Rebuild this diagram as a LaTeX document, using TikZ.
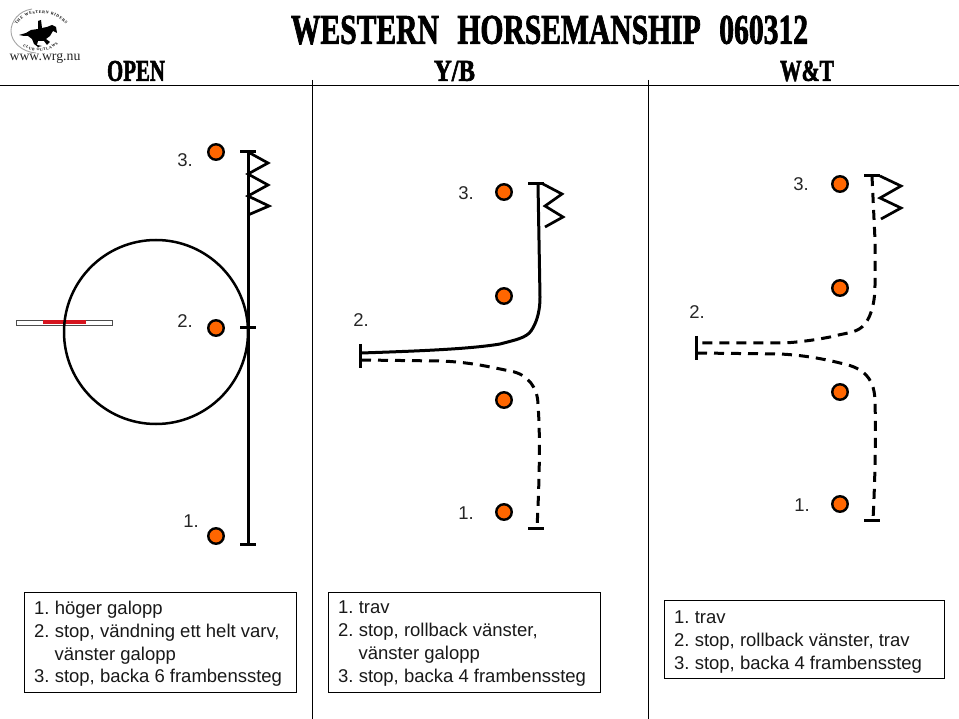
\documentclass[tikz,border=0pt]{standalone}
\usepackage{fontspec}
\usepackage{graphicx}
\setmainfont{Liberation Sans}
\newfontfamily\westfont[FakeBold=2.2,WordSpace=2.5]{Liberation Serif Bold}
\newfontfamily\logofont{Liberation Serif}
\usetikzlibrary{decorations.text}
\definecolor{coneorange}{RGB}{255,102,0}
\definecolor{barred}{RGB}{214,20,30}
\tikzset{
  conenode/.style={circle,draw=black,line width=2.4pt,fill=coneorange,minimum size=15.5pt,inner sep=0pt},
  numlabel/.style={inner sep=0pt,font=\fontsize{18.5}{20}\selectfont,text=black!85},
  pathsolid/.style={line width=3pt,line cap=butt,line join=round},
  pathdash/.style={line width=3pt,dash pattern=on 10pt off 7pt},
  tickline/.style={line width=3pt},
  zigline/.style={line width=2.7pt,line join=miter},
  rulesep/.style={line width=1pt},
  infobox/.style={draw=black,line width=1pt,anchor=north west,inner sep=0pt},
  infotext/.style={inner sep=0pt,anchor=north west,align=left,font=\fontsize{18.5}{22.7}\selectfont,text=black!90},
  headtext/.style={inner sep=0pt,text=black}
}
\newcommand{\westtext}[3]{\resizebox{#1pt}{#2pt}{\westfont #3}}
\frenchspacing
\begin{document}
\begin{tikzpicture}[x=1pt,y=-1pt]
\useasboundingbox (0,0) rectangle (959,719);
\fill[white] (0,0) rectangle (959,719);
% separators
\coordinate (hl) at (0,86); \coordinate (hr) at (959,86);
\coordinate (v1t) at (312,80); \coordinate (v1b) at (312,719);
\coordinate (v2t) at (648,80); \coordinate (v2b) at (648,719);
\draw[rulesep] (hl) -- (hr);
\draw[rulesep] (v1t) -- (v1b);
\draw[rulesep] (v2t) -- (v2b);
% headings
\node[headtext] (title) at (549.5,30) {\westtext{517}{28}{WESTERN HORSEMANSHIP 060312}};
\node[headtext] (hopen) at (136,71) {\westtext{58}{20}{OPEN}};
\node[headtext] (hyb) at (454.5,71) {\westtext{41}{20}{Y/B}};
\node[headtext] (hwt) at (807,71) {\westtext{54}{20}{W\&T}};
% logo
\draw[black!35,line width=0.9pt] (32,9) .. controls (18,11) and (11,22) .. (11,31) .. controls (11,42) and (22,52) .. (36,53);
\path[postaction={decorate,decoration={text along path,text align={fit to path},text={|\fontsize{4}{5}\selectfont\bfseries\logofont|THE WESTERN RIDERS}}}]
  (17,25) .. controls (25,10) and (52,9) .. (66,24);
\path[postaction={decorate,decoration={text along path,text align={fit to path},text={|\fontsize{3.8}{5}\selectfont\bfseries\logofont|CLUB OUTLAWS}}}]
  (23,46) .. controls (33,53) and (47,53) .. (58,44);
\fill[black] (19,35) -- (26,33) -- (31,30) -- (38,29) -- (38,21) -- (41,20) -- (42,28)
  -- (47,27) -- (52,25) -- (56,27) -- (57,33) -- (53,31) -- (50,36) -- (46,39)
  -- (50,42) -- (47,45) -- (44,41) -- (38,41) -- (37,45) -- (42,46) -- (38,47) -- (34,44)
  -- (32,39) -- (28,36) -- (24,36) -- cycle;
\node[inner sep=0pt,font=\fontsize{13.8}{14}\selectfont\logofont,text=black!85] (url) at (45,58) {www.wrg.nu};
% OPEN
\node[draw=black!70,fill=white,line width=0.7pt,minimum width=96pt,minimum height=5pt,inner sep=0pt] (bar) at (64,322.5) {};
\fill[barred] (43,320.5) rectangle (86,324.5);
\node[circle,draw=black,line width=2.5pt,minimum size=184pt,inner sep=0pt] (circ) at (156,332) {};
\node[conenode] (oa) at (216,152) {};
\node[conenode] (ob) at (216,328) {};
\node[conenode] (oc) at (216,536) {};
\node[numlabel] at (185,160) {3.};
\node[numlabel] at (185,321) {2.};
\node[numlabel] at (191,521) {1.};
\coordinate (ot) at (248,152); \coordinate (om) at (248,328); \coordinate (oe) at (248,544);
\draw[pathsolid] (ot) -- (oe);
\draw[tickline] (240,152) -- (256,152);
\draw[tickline] (240,328) -- (256,328);
\draw[tickline] (240,544) -- (256,544);
\draw[zigline] (ot) -- (268,163) -- (248,174) -- (268,185) -- (248,196) -- (269,206) -- (248,215);
% Y/B
\node[conenode] (ya) at (504,192) {};
\node[conenode] (yb) at (504,296) {};
\node[conenode] (yc) at (504,400) {};
\node[conenode] (yd) at (504,512) {};
\node[numlabel] at (466,193) {3.};
\node[numlabel] at (361,320) {2.};
\node[numlabel] at (466,513) {1.};
\coordinate (yt) at (538,184); \coordinate (yl) at (361,353); \coordinate (yl2) at (361,360); \coordinate (ye) at (537,528);
\draw[pathsolid] (yt) -- (540,297) .. controls (540,315) and (535,325) .. (531,331) .. controls (526,338) and (515,340) .. (500,344) .. controls (470,349) and (420,351) .. (yl);
\draw[pathdash] (yl2) -- (440,361) .. controls (470,362) and (490,367) .. (510,371) .. controls (528,374) and (538,388) .. (538,405) .. controls (540,430) and (540,470) .. (ye);
\draw[tickline] (360,344) -- (360,368);
\draw[tickline] (528,184) -- (544,184);
\draw[tickline] (528,528) -- (544,528);
\draw[zigline] (543,184) -- (562,194) -- (545,206) -- (563,217) -- (545,227);
% W&T
\node[conenode] (wa) at (840,184) {};
\node[conenode] (wb) at (840,288) {};
\node[conenode] (wc) at (840,392) {};
\node[conenode] (wd) at (840,504) {};
\node[numlabel] at (801,184) {3.};
\node[numlabel] at (697,312) {2.};
\node[numlabel] at (802,505) {1.};
\coordinate (wt) at (872,176); \coordinate (wl1) at (697,343); \coordinate (wl2) at (697,353); \coordinate (we) at (873,520);
\draw[pathdash] (wt) -- (875,240) -- (875,285) .. controls (875,305) and (870,320) .. (862,327) .. controls (855,333) and (845,333) .. (830,337) .. controls (810,341) and (790,343) .. (780,343) -- (wl1);
\draw[pathdash] (wl2) -- (780,354) .. controls (800,355) and (820,358) .. (840,363) .. controls (860,367) and (874,375) .. (875,400) .. controls (876,440) and (875,480) .. (we);
\draw[tickline] (696,336) -- (696,360);
\draw[tickline] (864,176) -- (880,176);
\draw[tickline] (864,520) -- (880,520);
\draw[zigline] (880,176) -- (901,186) -- (880,198) -- (901,208) -- (881,219);
% boxes
\node[infobox,minimum width=272pt,minimum height=100pt] (b1) at (24,592) {};
\node[infotext] (t1) at (34,601) {1. höger galopp\\2. stop, vändning ett helt varv,\\\hspace*{1.1em}vänster galopp\\3. stop, backa 6 frambenssteg};
\node[infobox,minimum width=272pt,minimum height=100pt] (b2) at (328,592) {};
\node[infotext] (t2) at (338,601) {1. trav\\2. stop, rollback vänster,\\\hspace*{1.1em}vänster galopp\\3. stop, backa 4 frambenssteg};
\node[infobox,minimum width=280pt,minimum height=78pt] (b3) at (664,600) {};
\node[infotext] (t3) at (674,611) {1. trav\\2. stop, rollback vänster, trav\\3. stop, backa 4 frambenssteg};
\end{tikzpicture}
\end{document}
